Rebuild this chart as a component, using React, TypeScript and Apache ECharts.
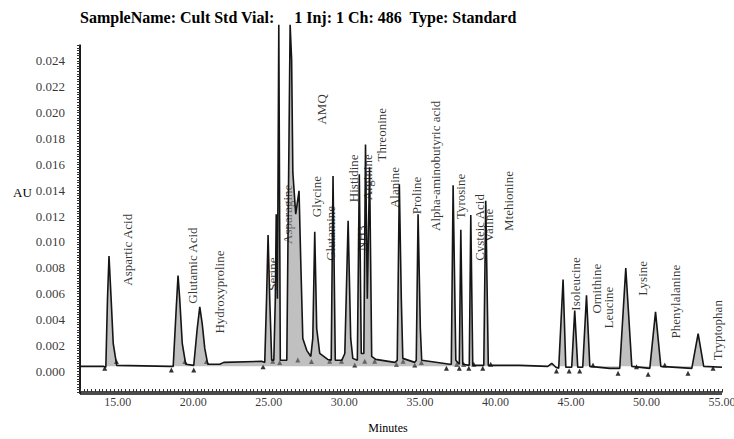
import React, { useEffect, useRef } from "react";
import * as echarts from "echarts";

// Chromatogram trace: retention time (min) and detector response (AU)
const traceTime = [
  12.5, 14.07, 14.21, 14.32, 14.42, 14.56, 14.7, 14.93,
  18.44, 18.67, 18.87, 18.99, 19.1, 19.27, 19.5,
  20.03, 20.26, 20.43, 20.59, 20.76, 20.96, 21.75, 22.02, 24.53,
  24.73, 24.85, 24.95, 25.06, 25.19,
  25.33, 25.43, 25.49, 25.57, 25.66, 25.76,
  26.19, 26.41, 26.51, 26.59, 26.78, 27.0, 27.11, 27.25, 27.51, 27.78,
  27.91, 28.04, 28.17, 28.37, 28.9,
  29.13, 29.25, 29.4, 29.83,
  30.03, 30.25, 30.42, 30.56,
  30.86, 30.99, 31.12,
  31.29, 31.4, 31.52, 31.67, 31.81, 32.08, 33.34,
  33.5, 33.64, 33.77, 33.87, 34.66,
  34.76, 34.88, 35.03, 35.12, 36.98,
  37.08, 37.2, 37.38,
  37.61, 37.71, 37.84,
  38.27, 38.37, 38.5,
  39.23, 39.36, 39.53,
  41.61, 43.47, 43.73, 44.0,
  44.19, 44.48, 44.66,
  45.05, 45.25, 45.45,
  45.78, 46.03, 46.25, 47.57,
  48.23, 48.63, 49.03,
  50.22, 50.6, 50.95,
  53.0, 53.42, 53.79, 55.0,
];
const traceAU = [
  0.00038, 0.00038, 0.00031, 0.00562, 0.00892, 0.00562, 0.00215, 0.00046,
  0.00038, 0.00038, 0.00485, 0.00741, 0.00562, 0.00215, 0.00054,
  0.00046, 0.00331, 0.00498, 0.00369, 0.00177, 0.00054, 0.00054, 0.00069, 0.00077,
  0.00069, 0.00562, 0.01054, 0.00562, 0.00085,
  0.00085, 0.00562, 0.01215, 0.00562, 0.0268, 0.00085,
  0.00085, 0.0268, 0.02408, 0.01538, 0.01215, 0.01395, 0.00869, 0.00254, 0.00162, 0.00115,
  0.00254, 0.01079, 0.00331, 0.00138, 0.00092,
  0.00085, 0.0151, 0.00085, 0.00085,
  0.00138, 0.01164, 0.00254, 0.001,
  0.00085, 0.01523, 0.00138,
  0.00138, 0.01754, 0.00562, 0.01577, 0.00115, 0.00092, 0.00069,
  0.00085, 0.01446, 0.00562, 0.001, 0.00069,
  0.00085, 0.01215, 0.00331, 0.00085, 0.00054,
  0.00054, 0.01438, 0.00085,
  0.00054, 0.01095, 0.00054,
  0.00046, 0.01208, 0.00046,
  0.00046, 0.01318, 0.00046,
  0.00046, 0.00038, 0.00062, 0.00031,
  0.00023, 0.0071, 0.00031,
  0.00031, 0.00469, 0.00031,
  0.00031, 0.00587, 0.00038, 0.00023,
  0.00023, 0.00798, 0.00038,
  0.00023, 0.00459, 0.00038,
  0.00023, 0.00292, 0.00038, 0.00031,
];

// Integration marks at peak start / end
const markTime = [
  14.14, 14.91, 18.55, 19.44, 20.03, 20.87, 24.62, 25.26, 25.72, 26.92,
  27.82, 29.03, 29.81, 30.69, 31.35, 32.01, 33.45, 33.89, 34.66, 35.1,
  36.76, 37.44, 37.61, 37.9, 38.24, 38.57, 39.16, 39.69,
  44.04, 44.88, 45.58, 46.46, 48.12, 49.34, 50.11, 51.21, 52.75, 54.41,
];
const markAU = [
  0.00023, 0.00075, 0.0001, 0.00075, 0.0001, 0.00075, 0.00036, 0.00077, 0.00069, 0.00087,
  0.00075, 0.00077, 0.00077, 0.00048, 0.00077, 0.00077, 0.00054, 0.00077, 0.00048, 0.00069,
  0.00023, 0.00054, 0.00023, 0.00054, 0.00023, 0.00054, 0.00023, 0.00054,
  0.00002, 0.00002, 0.00002, 0.00048, -0.00015, 0.00036, -0.00023, 0.00048, -0.00015, 0.00023,
];

// Peak names, anchored where each rotated label begins
const peakNames = [
  "Aspartic Acid", "Glutamic Acid", "Hydroxyproline", "Serine", "Asparagine",
  "AMQ", "Glycine", "Glutamine", "Histidine", "NH3", "Arginine", "Threonine",
  "Alanine", "Proline", "Alpha-aminobutyric acid", "Tyrosine", "Cysteic Acid",
  "Valine", "Mtehionine", "Isoleucine", "Ornithine", "Leucine", "Lysine",
  "Phenylalanine", "Tryptophan",
];
const nameTime = [
  15.63, 19.93, 21.75, 25.26, 26.25, 28.5, 28.17, 29.1, 30.62, 31.15, 31.55, 32.48,
  33.34, 34.79, 36.05, 37.71, 38.96, 39.56, 40.88, 45.32, 46.71, 47.5, 49.75,
  51.94, 54.72,
];
const nameAU = [
  0.00662, 0.00523, 0.00292, 0.00623, 0.00985, 0.01908, 0.01192, 0.00854, 0.01308,
  0.00931, 0.01323, 0.01623, 0.01262, 0.01215, 0.01085, 0.01177, 0.00854, 0.01,
  0.01085, 0.00469, 0.00446, 0.00331, 0.00585, 0.00254, 0.00085,
];

// Tick labels
const xTickLabels = [15, 20, 25, 30, 35, 40, 45, 50, 55];
const yTickLabels = [
  0, 0.002, 0.004, 0.006, 0.008, 0.01, 0.012, 0.014, 0.016, 0.018, 0.02, 0.022, 0.024,
];

const X_MIN = 12.5;
const X_MAX = 55;
const Y_MIN = -0.0016;
const Y_MAX = 0.02523;

const SERIF = "Liberation Serif";

// plot frame (grid edges, px)
const GRID = { left: 80, right: 12, top: 45, bottom: 45 };
const W = 734;
const H = 439;

export default function App() {
  const ref = useRef<HTMLDivElement>(null);

  useEffect(() => {
    if (!ref.current) return;
    const chart = echarts.init(ref.current, null, { renderer: "svg" });

    const frameLeft = GRID.left;
    const frameRight = W - GRID.right;
    const frameTop = GRID.top;
    const frameBottom = H - GRID.bottom;

    chart.setOption({
      animation: false,
      textStyle: { fontFamily: SERIF, color: "#000" },
      title: {
        text:
          "SampleName: Cult Std Vial:\u00a0\u00a0\u00a0\u00a0 1 Inj: 1 Ch: 486\u00a0 Type: Standard",
        left: 80,
        top: 9,
        padding: 0,
        textStyle: { fontFamily: SERIF, fontSize: 16, fontWeight: "bold", color: "#000" },
      },
      graphic: [
        {
          type: "text",
          left: 13,
          top: 186,
          style: { text: "AU", font: `13px "${SERIF}"`, fill: "#000" },
        },
        {
          type: "line",
          shape: { x1: frameLeft, y1: frameBottom, x2: frameRight, y2: frameBottom },
          style: { stroke: "#111", lineWidth: 1.6 },
          silent: true,
        },
        {
          type: "line",
          shape: { x1: frameLeft, y1: frameTop, x2: frameLeft, y2: frameBottom },
          style: { stroke: "#111", lineWidth: 1.6 },
          silent: true,
        },
      ],
      grid: GRID,
      xAxis: {
        type: "value",
        min: X_MIN,
        max: X_MAX,
        interval: 0.25,
        name: "Minutes",
        nameLocation: "middle",
        nameGap: 30,
        nameTextStyle: { fontFamily: SERIF, fontSize: 12, color: "#000", padding: [0, 26, 0, 0] },
        axisLine: { show: true, onZero: false, lineStyle: { color: "#111", width: 1.6 } },
        axisTick: { show: true, inside: true, length: 3, lineStyle: { color: "#333", width: 1 } },
        axisLabel: { show: false },
        splitLine: { show: false },
      },
      yAxis: {
        type: "value",
        min: Y_MIN,
        max: Y_MAX,
        interval: 0.0002,
        axisLine: { show: true, onZero: false, lineStyle: { color: "#111", width: 1.6 } },
        axisTick: { show: true, length: 3, lineStyle: { color: "#333", width: 1 } },
        axisLabel: { show: false },
        splitLine: { show: false },
      },
      series: [
        {
          type: "line",
          data: traceTime.map((t, i) => [t, traceAU[i]]),
          symbol: "none",
          clip: false,
          lineStyle: { color: "#151515", width: 1.6 },
          areaStyle: { origin: 0.0004, color: "#8c8c8c", opacity: 0.55 },
        },
        {
          type: "scatter",
          data: markTime.map((t, i) => [t, markAU[i]]),
          symbol: "triangle",
          symbolSize: 5,
          itemStyle: { color: "#000" },
        },
        {
          type: "scatter",
          data: peakNames.map((n, i) => ({ name: n, value: [nameTime[i], nameAU[i]] })),
          symbolSize: 0,
          itemStyle: { color: "transparent" },
          label: {
            show: true,
            formatter: (p: any) => p.name,
            position: [0, 0],
            rotate: 90,
            align: "left",
            verticalAlign: "middle",
            fontFamily: SERIF,
            fontSize: 13,
            color: "#000",
          },
        },
        {
          // time-axis tick labels
          type: "scatter",
          clip: false,
          silent: true,
          data: xTickLabels.map((v) => ({ name: v.toFixed(2), value: [v, Y_MIN] })),
          symbolSize: 0,
          itemStyle: { color: "transparent" },
          label: {
            show: true,
            formatter: (p: any) => p.name,
            position: "bottom",
            distance: 4,
            fontFamily: SERIF,
            fontSize: 12,
            color: "#000",
          },
        },
        {
          // response-axis tick labels
          type: "scatter",
          clip: false,
          silent: true,
          data: yTickLabels.map((v) => ({ name: v.toFixed(3), value: [X_MIN, v] })),
          symbolSize: 0,
          itemStyle: { color: "transparent" },
          label: {
            show: true,
            formatter: (p: any) => p.name,
            position: "left",
            distance: 15,
            fontFamily: SERIF,
            fontSize: 13,
            color: "#000",
          },
        },
      ],
    });

    return () => chart.dispose();
  }, []);

  return (
    <div
      ref={ref}
      style={{ position: "absolute", left: 0, top: 0, width: W, height: H }}
    />
  );
}
